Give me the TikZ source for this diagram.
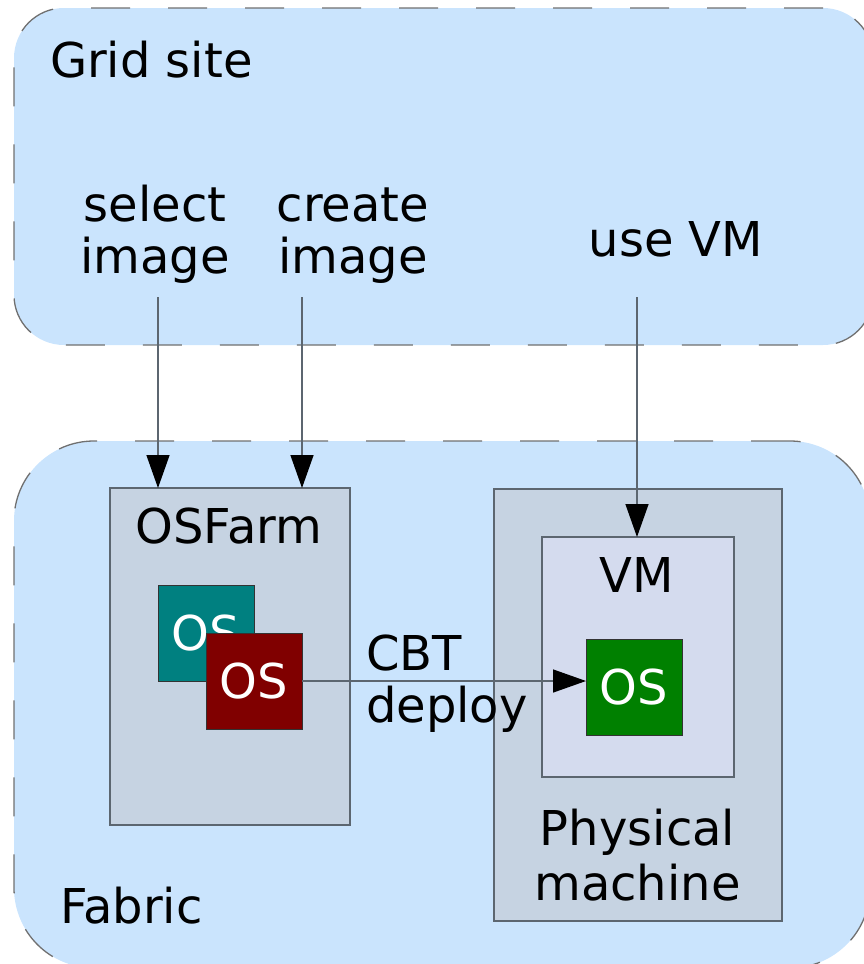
\documentclass[tikz,border=0pt]{standalone}
\usepackage{fontspec}
\setmainfont{DejaVu Sans}
\usetikzlibrary{arrows.meta}
\definecolor{bgblue}{HTML}{CAE4FD}
\definecolor{boxgray}{HTML}{C6D3E2}
\definecolor{vmfill}{HTML}{D4DBEE}
\definecolor{edgegray}{HTML}{5C6670}
\definecolor{dashgray}{HTML}{707070}
\definecolor{osteal}{HTML}{008080}
\definecolor{osred}{HTML}{800000}
\definecolor{osgreen}{HTML}{008000}
\begin{document}
\begin{tikzpicture}[x=1pt,y=-1pt,
  region/.style={fill=bgblue, draw=dashgray, line width=1.3pt, dash pattern=on 39pt off 38pt, inner sep=0pt, outer sep=0pt},
  box/.style={draw=edgegray, line width=1.4pt, inner sep=0pt, outer sep=0pt},
  osbox/.style={draw=black!80, line width=1pt, minimum width=96pt, minimum height=96pt, inner sep=0pt, outer sep=0pt, text=white, font=\fontsize{48}{52}\selectfont},
  lbl/.style={inner sep=0pt, outer sep=0pt, font=\fontsize{48}{52}\selectfont},
  conn/.style={draw=edgegray, line width=1.4pt, -{Triangle[length=33pt,width=23pt,color=black]}}
]
\useasboundingbox (0,0) rectangle (863,964);
% regions
\node[region, rounded corners=50pt, minimum width=859pt, minimum height=337pt] (grid) at (443.5,176.5) {};
\node[region, rounded corners=80pt, minimum width=856pt, minimum height=527pt] (fabric) at (442,704.5) {};
% boxes
\node[box, fill=boxgray, minimum width=240pt, minimum height=337pt] (osfarm) at (230,656.5) {};
\node[box, fill=boxgray, minimum width=288pt, minimum height=432pt] (phys) at (638,705) {};
\node[box, fill=vmfill, minimum width=192pt, minimum height=240pt] (vm) at (638,657) {};
\node[osbox, fill=osteal] (os1) at (206,633) {OS};
\node[osbox, fill=osred] (os2) at (254,681) {OS};
\node[osbox, fill=osgreen] (os3) at (634,687) {OS};
% labels (base anchor = baseline of last line)
\node[lbl, anchor=base west] (lgrid) at (50,77) {Grid site};
\node[lbl, anchor=base, align=center] (lsel) at (155,273) {select\\image};
\node[lbl, anchor=base, align=center] (lcre) at (353,273) {create\\image};
\node[lbl, anchor=base] (luse) at (676,256) {use VM};
\node[lbl, anchor=base] (lfarm) at (229,543) {OSFarm};
\node[lbl, anchor=base] (lvm) at (637,592) {VM};
\node[lbl, anchor=base west, align=left] (lcbt) at (366,722) {CBT\\deploy};
\node[lbl, anchor=base, align=center, font=\fontsize{48}{55}\selectfont] (lphys) at (637.5,900) {Physical\\machine};
\node[lbl, anchor=base west] (lfab) at (60,923) {Fabric};
% connectors
\coordinate (s1) at (158,297);
\coordinate (s2) at (302,297);
\coordinate (s3) at (637,297);
\draw[conn] (s1) -- (s1 |- osfarm.north);
\draw[conn] (s2) -- (s2 |- osfarm.north);
\draw[conn] (s3) -- (s3 |- vm.north);
\draw[conn] (os2.east) -- (os2.east -| os3.west);
\end{tikzpicture}
\end{document}
